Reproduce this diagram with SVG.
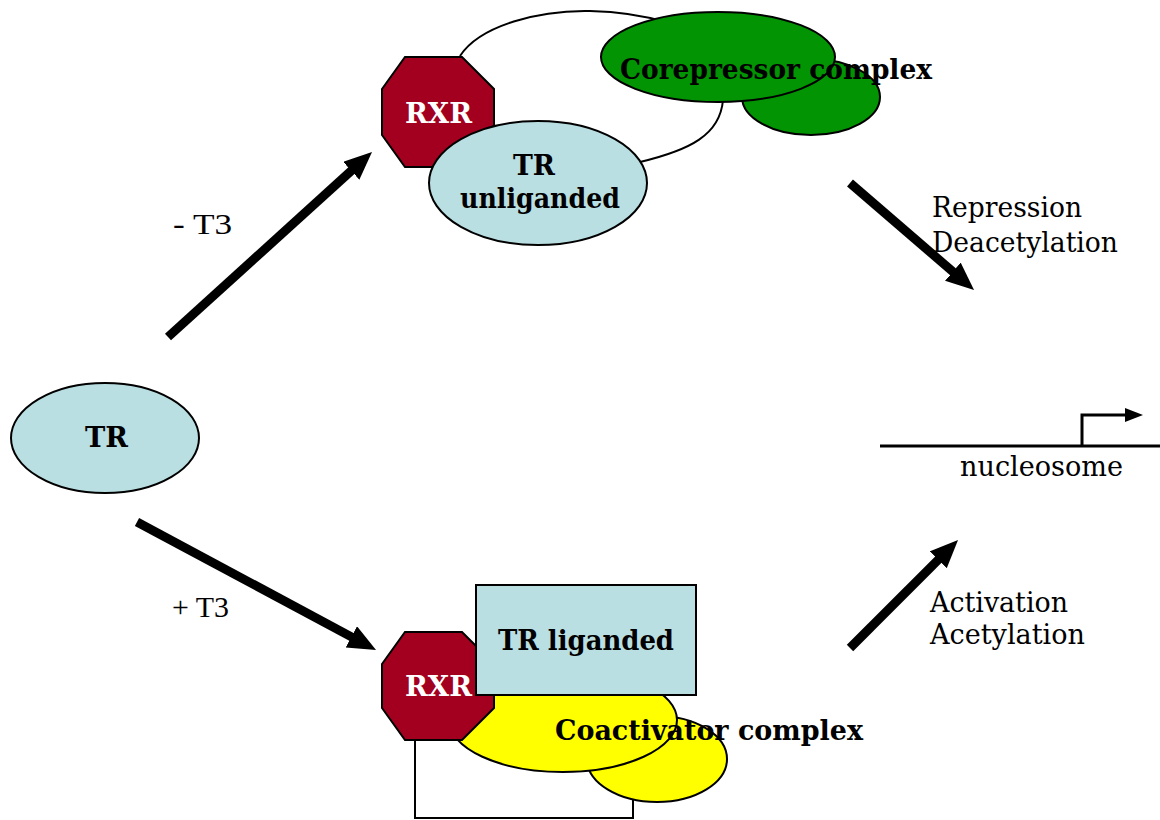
<svg xmlns="http://www.w3.org/2000/svg" width="1160" height="820" viewBox="0 0 1160 820">
<defs>
<style>
.shape{stroke:#000;stroke-width:2}
.rxr{fill:#A3001F}
.tr{fill:#B9DFE2}
.green{fill:#029402}
.yellow{fill:#FFFF00}
.loop{fill:none;stroke:#000;stroke-width:2}
.bold{font-family:"DejaVu Serif","Liberation Serif",serif;font-weight:bold;font-size:28px;fill:#000}
.white{fill:#fff}
.lbl{font-family:"DejaVu Serif","Liberation Serif",serif;font-size:28px;fill:#000}
.t3{font-family:"Liberation Serif",serif;font-size:30px;fill:#000}
.arrow{stroke:#000;stroke-width:9;fill:none;marker-end:url(#head)}
</style>
<marker id="head" markerUnits="userSpaceOnUse" markerWidth="30" markerHeight="26" refX="8" refY="12" orient="auto">
<path d="M0,0 L28,12 L0,24 Z" fill="#000"/>
</marker>
<marker id="small" markerUnits="userSpaceOnUse" markerWidth="20" markerHeight="16" refX="2" refY="7" orient="auto">
<path d="M0,0 L18,7 L0,14 Z" fill="#000"/>
</marker>
</defs>

<g id="tr-free">
<ellipse class="shape tr" cx="105" cy="438" rx="94" ry="55"/>
<text class="bold" x="85" y="447" textLength="43" lengthAdjust="spacingAndGlyphs">TR</text>
</g>

<g id="repressor-complex">
<path class="loop" d="M460,56 C480,25 540,10 590,11 C640,12 700,25 740,60 L723,100 C720,135 690,150 640,162"/>
<polygon class="shape rxr" points="405,57 462,57 494,89 494,135 462,167 405,167 382,135 382,89"/>
<text class="bold white" x="405" y="123" textLength="67" lengthAdjust="spacingAndGlyphs">RXR</text>
<ellipse class="shape tr" cx="538" cy="183" rx="109" ry="62"/>
<text class="bold" x="513" y="175" textLength="42" lengthAdjust="spacingAndGlyphs">TR</text>
<text class="bold" x="460" y="208" textLength="160" lengthAdjust="spacingAndGlyphs">unliganded</text>
<ellipse class="shape green" cx="811" cy="97" rx="69" ry="38"/>
<ellipse class="shape green" cx="718" cy="57" rx="117" ry="45"/>
<text class="bold" x="620" y="79" textLength="312" lengthAdjust="spacingAndGlyphs">Corepressor complex</text>
</g>

<g id="activator-complex">
<rect class="shape" x="415" y="700" width="218" height="118" fill="#fff"/>
<ellipse class="shape yellow" cx="657" cy="759" rx="70" ry="43"/>
<ellipse class="shape yellow" cx="563" cy="720" rx="114" ry="52"/>
<polygon class="shape rxr" points="405,632 462,632 494,664 494,708 462,740 405,740 382,708 382,664"/>
<text class="bold white" x="405" y="696" textLength="67" lengthAdjust="spacingAndGlyphs">RXR</text>
<rect class="shape tr" x="476" y="585" width="220" height="110"/>
<text class="bold" x="498" y="650" textLength="176" lengthAdjust="spacingAndGlyphs">TR liganded</text>
<text class="bold" x="555" y="740" textLength="308" lengthAdjust="spacingAndGlyphs">Coactivator complex</text>
</g>

<g id="nucleosome">
<line x1="880" y1="446" x2="1160" y2="446" stroke="#000" stroke-width="3"/>
<polyline points="1082,446 1082,415 1127,415" fill="none" stroke="#000" stroke-width="3" marker-end="url(#small)"/>
<text class="lbl" x="960" y="476" textLength="163" lengthAdjust="spacingAndGlyphs">nucleosome</text>
</g>

<g id="connectors">
<line class="arrow" x1="168" y1="337" x2="357.2" y2="165.4"/>
<line class="arrow" x1="137" y1="522" x2="358.4" y2="640.6"/>
<line class="arrow" x1="850" y1="183" x2="958.9" y2="276.9"/>
<line class="arrow" x1="850" y1="648" x2="943.9" y2="554.1"/>
<text class="t3" x="173" y="234" textLength="59" lengthAdjust="spacingAndGlyphs">- T3</text>
<text class="t3" x="172" y="617" textLength="57" lengthAdjust="spacingAndGlyphs">+ T3</text>
<text class="lbl" x="932" y="217" textLength="150" lengthAdjust="spacingAndGlyphs">Repression</text>
<text class="lbl" x="932" y="252" textLength="186" lengthAdjust="spacingAndGlyphs">Deacetylation</text>
<text class="lbl" x="930" y="612" textLength="138" lengthAdjust="spacingAndGlyphs">Activation</text>
<text class="lbl" x="930" y="644" textLength="155" lengthAdjust="spacingAndGlyphs">Acetylation</text>
</g>
</svg>
